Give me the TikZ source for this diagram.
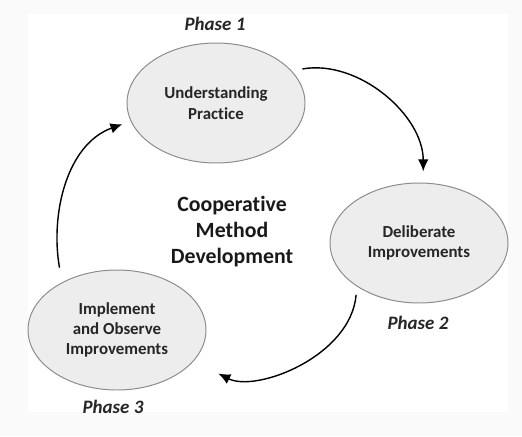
\documentclass[tikz,border=0pt]{standalone}
\usepackage{fontspec}
\setmainfont{Carlito}[Ligatures=NoCommon]
\usetikzlibrary{shapes,arrows.meta}
\definecolor{ellfill}{HTML}{EDEDED}
\definecolor{elldraw}{HTML}{8C8C8C}
\definecolor{outerbg}{HTML}{FAFAFA}
\newcommand{\cmdstate}[3]{
	\node [stage] (#1) at (#2) {#3};}
\newcommand{\phaselabel}[3]{
	\node [phase] (#1) at (#2) {Phase #3};}

\begin{document}
\begin{tikzpicture}[>={Latex[length=8.5pt,width=7.5pt]},
	stage/.style={draw=elldraw, fill=ellfill, ellipse, line width=0.7pt, minimum width=4.45cm, minimum height=3cm, inner sep=0pt, align=center, text=black!85, font=\fontsize{12}{14.5}\selectfont\bfseries},
	phase/.style={font=\fontsize{13.5}{16}\selectfont\bfseries\itshape, text=black!85},
	cycle/.style={->, line width=1pt}]
	% background
	\fill [outerbg] (0,0) rectangle (13.05,10.9);
	\fill [white] (0.7,0.6) rectangle (12.7,10.55);
	\cmdstate{up}{5.4cm,8.325cm}{Understanding\\Practice}
	\cmdstate{dip}{10.475cm,4.825cm}{Deliberate\\Improvements}
	\cmdstate{iom}{2.925cm,2.65cm}{Implement\\and Observe\\Improvements}
	\phaselabel{ph1}{5.375cm,10.3cm}{1}
	\phaselabel{ph2}{10.45cm,2.82cm}{2}
	\phaselabel{ph3}{2.825cm,0.72cm}{3}
	\node [align=center, font=\fontsize{15.5}{18.5}\selectfont\bfseries, text=black!90] (cmd) at (5.8cm,5.1cm) {Cooperative\\Method\\Development};
	\draw [cycle, shorten <=0.27cm, shorten >=0.28cm] (up.23) to [out=10, in=90] (dip.86);
	\draw [cycle, shorten <=0.21cm, shorten >=0.69cm] (dip.215) to [out=-95, in=-27] (iom.-22);
	\draw [cycle, shorten <=0.37cm, shorten >=0.22cm] (iom.139) to [out=100, in=200] (up.192);
\end{tikzpicture}
\end{document}
